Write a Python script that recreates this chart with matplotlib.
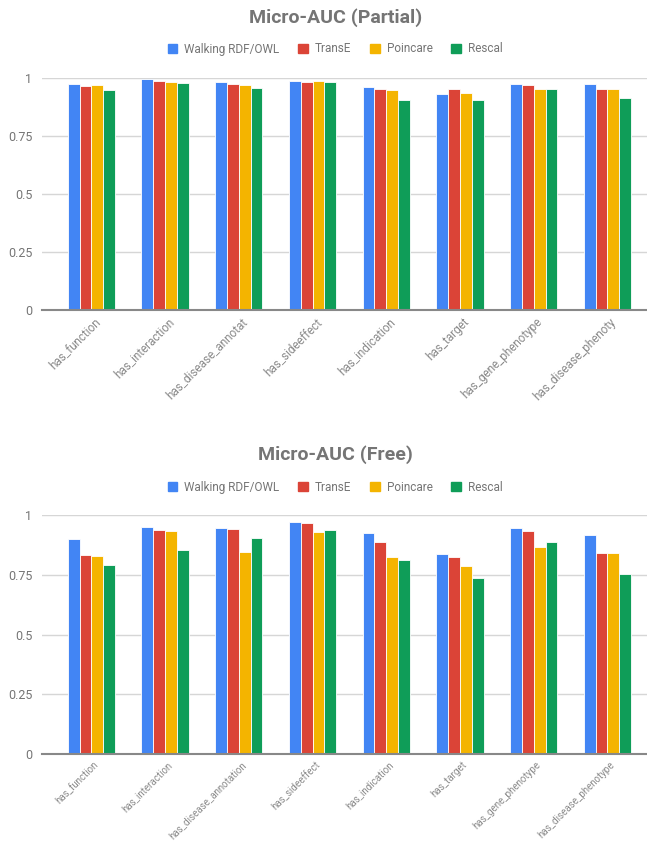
import numpy as np
import matplotlib.pyplot as plt

plt.rcParams['font.family'] = ['Roboto', 'DejaVu Sans']

# relations (x categories)
relations = ["has_function", "has_interaction", "has_disease_annotation", "has_sideeffect",
             "has_indication", "has_target", "has_gene_phenotype", "has_disease_phenotype"]
top_labels = ["has_function", "has_interaction", "has_disease_annotat", "has_sideeffect",
              "has_indication", "has_target", "has_gene_phenotype", "has_disease_phenoty"]

methods = ["Walking RDF/OWL", "TransE", "Poincare", "Rescal"]
colors = ["#4285F4", "#DB4437", "#F4B400", "#0F9D58"]

# Micro-AUC (Partial)
partial_walking = [0.975, 0.994, 0.983, 0.987, 0.962, 0.931, 0.975, 0.975]
partial_transe = [0.967, 0.987, 0.975, 0.983, 0.952, 0.951, 0.971, 0.954]
partial_poincare = [0.971, 0.983, 0.971, 0.987, 0.947, 0.935, 0.954, 0.951]
partial_rescal = [0.947, 0.978, 0.958, 0.983, 0.906, 0.906, 0.954, 0.913]

# Micro-AUC (Free)
free_walking = [0.900, 0.951, 0.947, 0.971, 0.923, 0.838, 0.947, 0.915]
free_transe = [0.834, 0.936, 0.940, 0.968, 0.889, 0.826, 0.932, 0.841]
free_poincare = [0.830, 0.932, 0.847, 0.928, 0.826, 0.787, 0.865, 0.841]
free_rescal = [0.791, 0.854, 0.904, 0.936, 0.811, 0.737, 0.889, 0.755]

yticks = [0, 0.25, 0.5, 0.75, 1]
ytick_labels = ["0", "0.25", "0.5", "0.75", "1"]

W, H = 647, 842
fig = plt.figure(figsize=(W / 100, H / 100), dpi=100)


def px_axes(left, top, right, bottom):
    return fig.add_axes([left / W, 1 - bottom / H, (right - left) / W, (bottom - top) / H])


def draw(ax, series, labels, title, title_y, legend_y, label_size):
    x = np.arange(len(relations))
    bw = 0.16
    for i, (vals, c) in enumerate(zip(series, colors)):
        ax.bar(x + (i - 1.5) * bw, vals, width=bw, color=c, edgecolor="white",
               linewidth=0.6, label=methods[i], zorder=3)
    ax.set_xlim(-0.669, 7.536)
    ax.set_ylim(0, 1)
    ax.set_yticks(yticks)
    ax.set_yticklabels(ytick_labels)
    ax.grid(axis="y", color="#d6d6d6", linewidth=1, zorder=0)
    ax.set_axisbelow(True)
    for s in ["top", "right", "left"]:
        ax.spines[s].set_visible(False)
    ax.spines["bottom"].set_color("#888888")
    ax.spines["bottom"].set_linewidth(1.5)
    ax.spines["bottom"].set_zorder(4)
    ax.tick_params(axis="y", length=0, pad=7, labelsize=9, labelcolor="#757575")
    ax.tick_params(axis="x", length=0, pad=4)
    ax.set_xticks(x + 0.03)
    ax.set_xticklabels(labels, rotation=45, ha="right", rotation_mode="anchor",
                       fontsize=label_size, color="#8a8a8a")
    ax.yaxis.get_gridlines()[0].set_visible(False)
    fig.text(0.518, 1 - title_y / H, title, ha="center", va="center",
             fontsize=14, fontweight="bold", color="#757575")
    handles = [plt.Rectangle((0, 0), 1, 1, color=c) for c in colors]
    fig.legend(handles, methods, loc="center", bbox_to_anchor=(0.518, 1 - legend_y / H),
               ncol=4, frameon=False, fontsize=8.5, handlelength=0.8, handleheight=0.8,
               handletextpad=0.6, columnspacing=1.6, labelcolor="#757575")


ax1 = px_axes(42, 78, 647, 310)
draw(ax1, [partial_walking, partial_transe, partial_poincare, partial_rescal],
     top_labels, "Micro-AUC (Partial)", 18, 49, 8.5)

ax2 = px_axes(42, 515, 647, 754)
draw(ax2, [free_walking, free_transe, free_poincare, free_rescal],
     relations, "Micro-AUC (Free)", 455, 487, 7)

fig.savefig("out.png", dpi=100)
